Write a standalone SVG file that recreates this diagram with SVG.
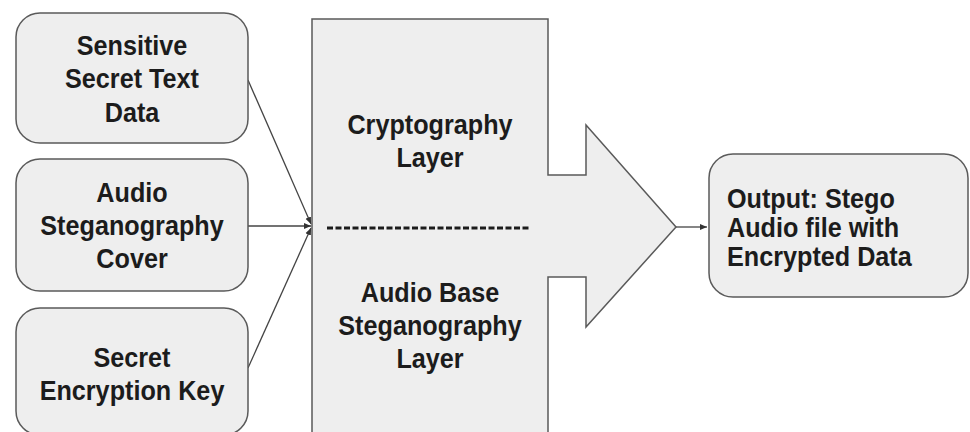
<svg xmlns="http://www.w3.org/2000/svg" width="970" height="432" viewBox="0 0 970 432">
<defs>
<style>
.box{fill:#eeeeee;stroke:#5a5a5a;stroke-width:1.5}
.t{font-family:"Liberation Sans",Arial,sans-serif;font-weight:bold;font-size:28px;fill:#1c1c1c}
.c{text-anchor:middle}
.line{stroke:#444;stroke-width:1.3;fill:none;marker-end:url(#ah)}
</style>
<marker id="ah" markerWidth="8" markerHeight="8" refX="7" refY="4" orient="auto" markerUnits="userSpaceOnUse">
<path d="M0,1 L7,4 L0,7 Z" fill="#333"/>
</marker>
</defs>
<rect width="970" height="432" fill="#ffffff"/>
<g id="connectors">
<line class="line" x1="248" y1="80" x2="311" y2="224"/>
<line class="line" x1="248" y1="226" x2="311" y2="226"/>
<line class="line" x1="248" y1="368" x2="311" y2="228"/>
<line class="line" x1="676" y1="227" x2="707" y2="227"/>
</g>
<g id="node-secret-text">
<rect class="box" x="16" y="13" width="232" height="130" rx="24"/>
<text class="t c" transform="translate(132,55) scale(0.9,1)">Sensitive</text>
<text class="t c" transform="translate(132,88) scale(0.9,1)">Secret Text</text>
<text class="t c" transform="translate(132,122) scale(0.9,1)">Data</text>
</g>
<g id="node-audio-cover">
<rect class="box" x="16" y="159" width="232" height="132" rx="24"/>
<text class="t c" transform="translate(132,202) scale(0.9,1)">Audio</text>
<text class="t c" transform="translate(132,235) scale(0.9,1)">Steganography</text>
<text class="t c" transform="translate(132,268) scale(0.9,1)">Cover</text>
</g>
<g id="node-key">
<rect class="box" x="16" y="308" width="232" height="127" rx="24"/>
<text class="t c" transform="translate(132,367) scale(0.9,1)">Secret</text>
<text class="t c" transform="translate(132,400) scale(0.9,1)">Encryption Key</text>
</g>
<g id="node-layers">
<path class="box" d="M312,19 H548 V175 H586 V125 L676,227 L586,327 V277 H548 V440 H312 Z"/>
<text class="t c" transform="translate(430,134) scale(0.9,1)">Cryptography</text>
<text class="t c" transform="translate(430,167) scale(0.9,1)">Layer</text>
<line x1="327" y1="228" x2="530" y2="228" stroke="#1c1c1c" stroke-width="3" stroke-dasharray="6,2.5"/>
<text class="t c" transform="translate(430,302) scale(0.9,1)">Audio Base</text>
<text class="t c" transform="translate(430,335) scale(0.9,1)">Steganography</text>
<text class="t c" transform="translate(430,368) scale(0.9,1)">Layer</text>
</g>
<g id="node-output">
<rect class="box" x="709" y="154" width="259" height="143" rx="24"/>
<text class="t" transform="translate(727,208) scale(0.9,1)">Output: Stego</text>
<text class="t" transform="translate(727,237) scale(0.9,1)">Audio file with</text>
<text class="t" transform="translate(727,266) scale(0.9,1)">Encrypted Data</text>
</g>
</svg>
